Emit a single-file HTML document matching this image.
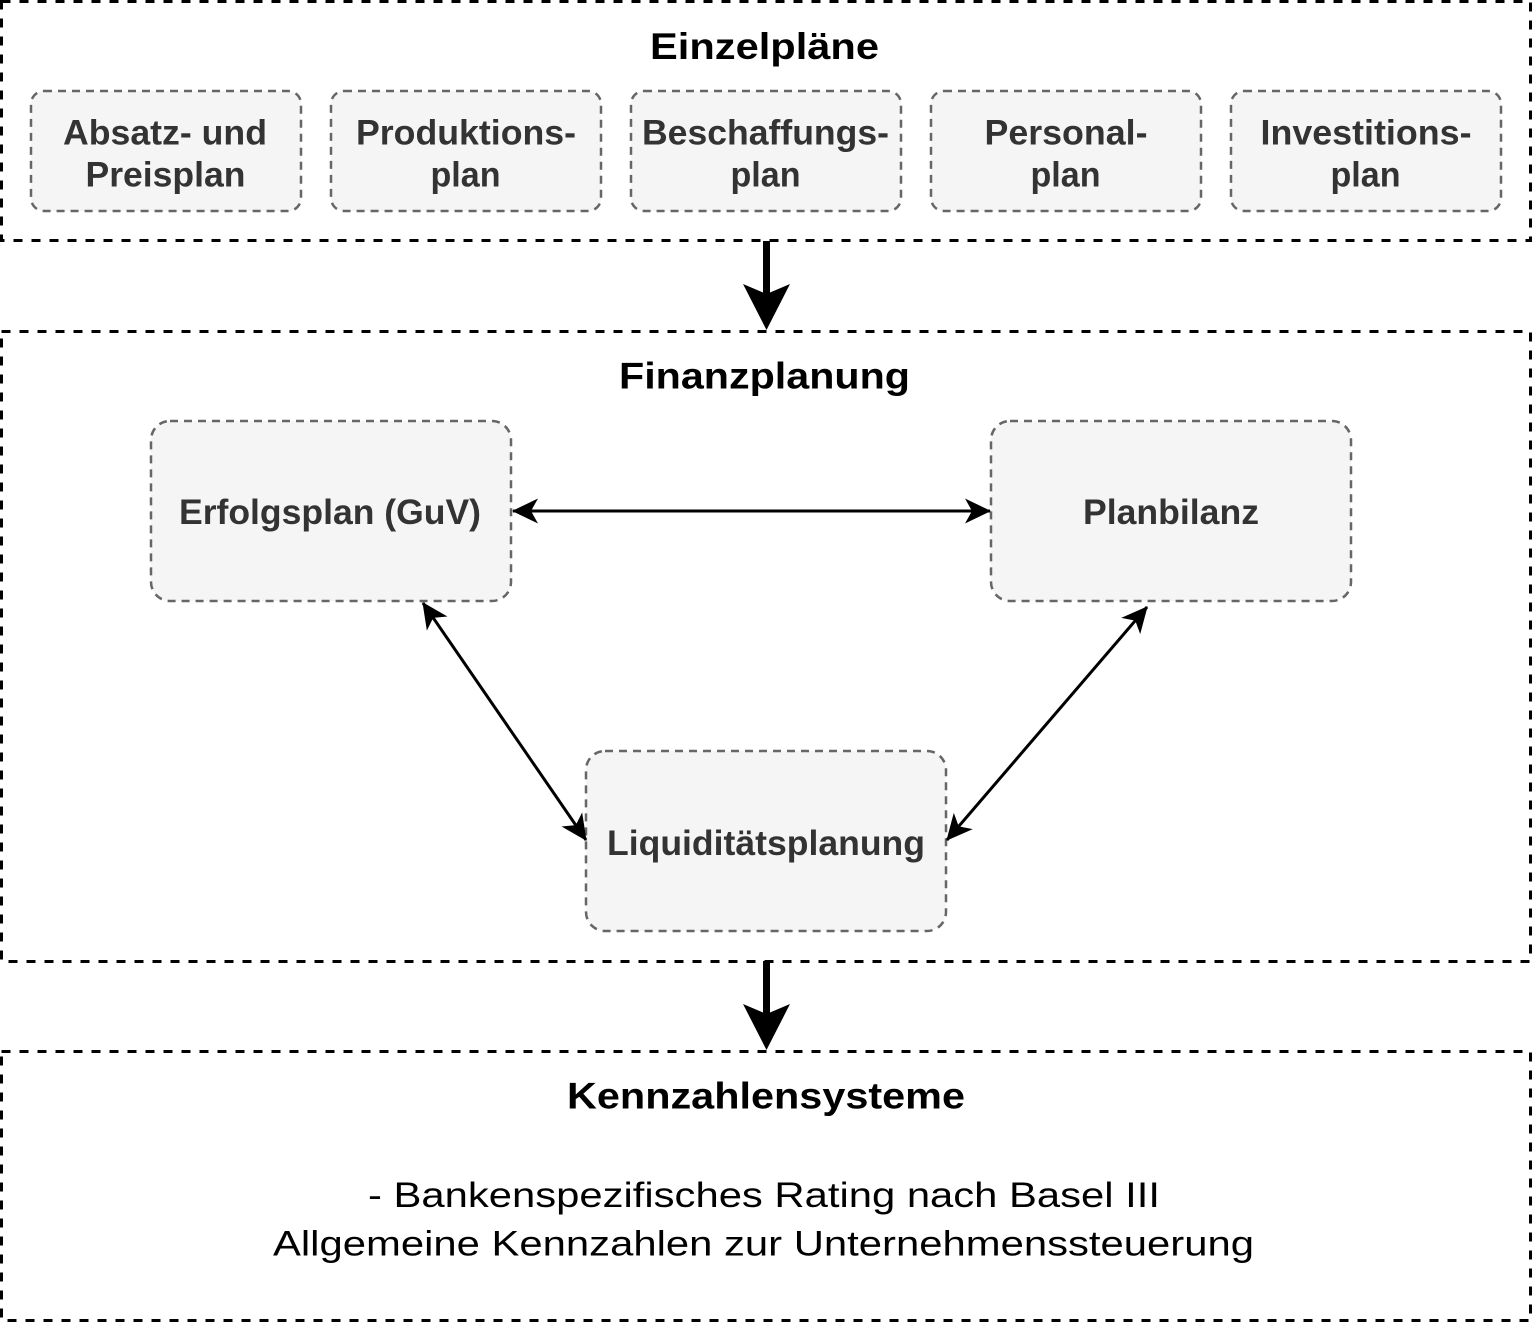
<!DOCTYPE html>
<html>
<head>
<meta charset="utf-8">
<style>
  html, body { margin:0; padding:0; background:#fff; }
  svg { display:block; }
  .lbl { font-family:"Liberation Sans", Arial, sans-serif; font-weight:bold; font-size:35px; fill:#333333; }
  .ttl { font-family:"Liberation Sans", Arial, sans-serif; font-weight:bold; font-size:37px; fill:#000; }
  .body { font-family:"Liberation Sans", Arial, sans-serif; font-size:35px; fill:#000; }
</style>
</head>
<body>
<svg width="1533" height="1323" viewBox="0 0 1533 1323" xmlns="http://www.w3.org/2000/svg">
  <defs>
    <marker id="arr" markerUnits="userSpaceOnUse" markerWidth="32" markerHeight="32" viewBox="-28 -16 32 32" refX="0" refY="0" orient="auto-start-reverse">
      <path d="M1,0 L-25,-12.5 L-18,0 L-25,12.5 Z" fill="#000"/>
    </marker>
  </defs>

  <!-- Containers -->
  <rect x="1.5" y="1.5" width="1529" height="239" fill="#fff" stroke="#000" stroke-width="3" stroke-dasharray="9 9"/>
  <rect x="1.5" y="331.5" width="1529" height="630" fill="#fff" stroke="#000" stroke-width="3" stroke-dasharray="9 9"/>
  <rect x="1.5" y="1051.5" width="1529" height="269" fill="#fff" stroke="#000" stroke-width="3" stroke-dasharray="9 9"/>

  <!-- Titles -->
  <text class="ttl" x="650" y="59" textLength="229" lengthAdjust="spacingAndGlyphs">Einzelpläne</text>
  <text class="ttl" x="619" y="388.5" textLength="291" lengthAdjust="spacingAndGlyphs">Finanzplanung</text>
  <text class="ttl" x="567" y="1108.5" textLength="398" lengthAdjust="spacingAndGlyphs">Kennzahlensysteme</text>

  <!-- Small boxes -->
  <g fill="#f5f5f5" stroke="#666666" stroke-width="2.5" stroke-dasharray="8 6">
    <rect x="31" y="91" width="270" height="120" rx="13" ry="13"/>
    <rect x="331" y="91" width="270" height="120" rx="13" ry="13"/>
    <rect x="631" y="91" width="270" height="120" rx="13" ry="13"/>
    <rect x="931" y="91" width="270" height="120" rx="13" ry="13"/>
    <rect x="1231" y="91" width="270" height="120" rx="13" ry="13"/>
  </g>
  <text class="lbl" x="63" y="144.5" textLength="204" lengthAdjust="spacingAndGlyphs">Absatz- und</text>
  <text class="lbl" x="85.5" y="186.5" textLength="160" lengthAdjust="spacingAndGlyphs">Preisplan</text>

  <text class="lbl" x="356" y="144.5" textLength="220" lengthAdjust="spacingAndGlyphs">Produktions-</text>
  <text class="lbl" x="430.5" y="186.5" textLength="70" lengthAdjust="spacingAndGlyphs">plan</text>

  <text class="lbl" x="642" y="144.5" textLength="247" lengthAdjust="spacingAndGlyphs">Beschaffungs-</text>
  <text class="lbl" x="730.5" y="186.5" textLength="70" lengthAdjust="spacingAndGlyphs">plan</text>

  <text class="lbl" x="984.5" y="144.5" textLength="163" lengthAdjust="spacingAndGlyphs">Personal-</text>
  <text class="lbl" x="1030.5" y="186.5" textLength="70" lengthAdjust="spacingAndGlyphs">plan</text>

  <text class="lbl" x="1260.5" y="144.5" textLength="211" lengthAdjust="spacingAndGlyphs">Investitions-</text>
  <text class="lbl" x="1330.5" y="186.5" textLength="70" lengthAdjust="spacingAndGlyphs">plan</text>

  <!-- Big boxes -->
  <g fill="#f5f5f5" stroke="#666666" stroke-width="2.5" stroke-dasharray="8 6">
    <rect x="151" y="421" width="360" height="180" rx="19" ry="19"/>
    <rect x="991" y="421" width="360" height="180" rx="19" ry="19"/>
    <rect x="586" y="751" width="360" height="180" rx="19" ry="19"/>
  </g>
  <text class="lbl" x="179" y="524" textLength="302" lengthAdjust="spacingAndGlyphs">Erfolgsplan (GuV)</text>
  <text class="lbl" x="1083" y="524" textLength="176" lengthAdjust="spacingAndGlyphs">Planbilanz</text>
  <text class="lbl" x="607" y="855" textLength="318" lengthAdjust="spacingAndGlyphs">Liquiditätsplanung</text>

  <!-- Thin double arrows -->
  <g stroke="#000" stroke-width="3" fill="none">
    <line x1="513" y1="511" x2="990" y2="511" marker-start="url(#arr)" marker-end="url(#arr)"/>
    <line x1="423" y1="603" x2="586" y2="840" marker-start="url(#arr)" marker-end="url(#arr)"/>
    <line x1="1147" y1="607" x2="947" y2="840" marker-start="url(#arr)" marker-end="url(#arr)"/>
  </g>

  <!-- Thick arrows -->
  <rect x="763" y="241" width="7" height="55" fill="#000"/>
  <polygon points="766.5,330 743,284 766.5,294 790,284" fill="#000"/>
  <rect x="763" y="961" width="7" height="55" fill="#000"/>
  <polygon points="766.5,1050 743,1004 766.5,1014 790,1004" fill="#000"/>

  <!-- Body text -->
  <text class="body" x="368" y="1207" textLength="792" lengthAdjust="spacingAndGlyphs">- Bankenspezifisches Rating nach Basel III</text>
  <text class="body" x="273" y="1255.5" textLength="981" lengthAdjust="spacingAndGlyphs">Allgemeine Kennzahlen zur Unternehmenssteuerung</text>
</svg>
</body>
</html>
